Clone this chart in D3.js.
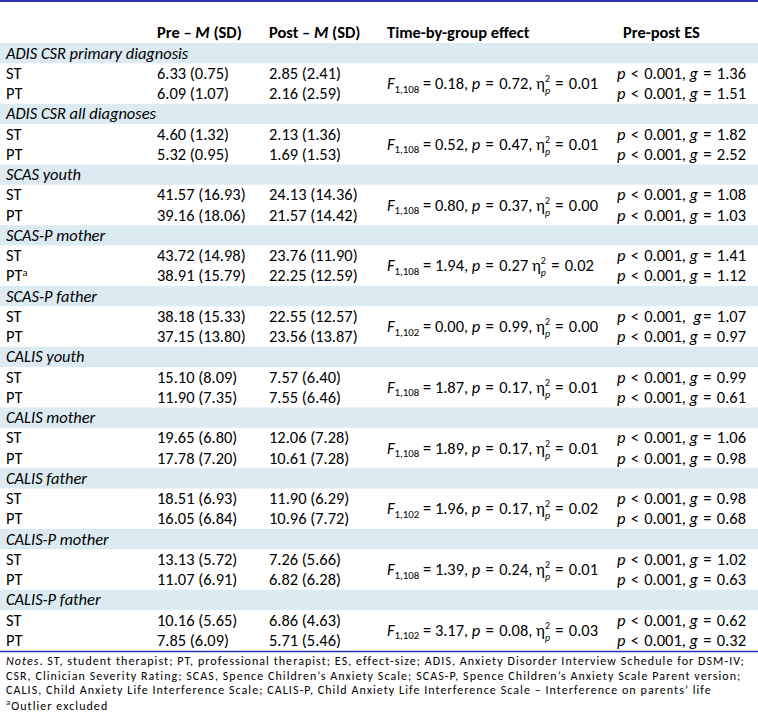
<!DOCTYPE html>
<html><head><meta charset="utf-8">
<script src="https://cdn.jsdelivr.net/npm/d3@7"></script>
<style>body{margin:0;background:#fff}svg text{white-space:pre}</style>
</head><body><svg id="c" width="758" height="722"></svg>
<script>
// ---- data ----
const measures = ["ADIS CSR primary diagnosis","ADIS CSR all diagnoses","SCAS youth","SCAS-P mother","SCAS-P father","CALIS youth","CALIS mother","CALIS father","CALIS-P mother","CALIS-P father"];
const groups = ["ST","PT"];
const preST  = ["6.33 (0.75)","4.60 (1.32)","41.57 (16.93)","43.72 (14.98)","38.18 (15.33)","15.10 (8.09)","19.65 (6.80)","18.51 (6.93)","13.13 (5.72)","10.16 (5.65)"];
const prePT  = ["6.09 (1.07)","5.32 (0.95)","39.16 (18.06)","38.91 (15.79)","37.15 (13.80)","11.90 (7.35)","17.78 (7.20)","16.05 (6.84)","11.07 (6.91)","7.85 (6.09)"];
const postST = ["2.85 (2.41)","2.13 (1.36)","24.13 (14.36)","23.76 (11.90)","22.55 (12.57)","7.57 (6.40)","12.06 (7.28)","11.90 (6.29)","7.26 (5.66)","6.86 (4.63)"];
const postPT = ["2.16 (2.59)","1.69 (1.53)","21.57 (14.42)","22.25 (12.59)","23.56 (13.87)","7.55 (6.46)","10.61 (7.28)","10.96 (7.72)","6.82 (6.28)","5.71 (5.46)"];
const ptNote = ["","","","a","","","","","",""];
const fDf  = ["1,108","1,108","1,108","1,108","1,102","1,108","1,108","1,102","1,108","1,102"];
const fVal = ["0.18","0.52","0.80","1.94","0.00","1.87","1.89","1.96","1.39","3.17"];
const pVal = ["0.72","0.47","0.37","0.27","0.99","0.17","0.17","0.17","0.24","0.08"];
const pSep = [",",",",",","",",",",",",",",",",",","];
const eta  = ["0.01","0.01","0.00","0.02","0.00","0.01","0.01","0.02","0.01","0.03"];
const esP  = "0.001";
const gST  = ["1.36","1.82","1.08","1.41","1.07","0.99","1.06","0.98","1.02","0.62"];
const gPT  = ["1.51","2.52","1.03","1.12","0.97","0.61","0.98","0.68","0.63","0.32"];
const headers = [["Pre – ",{t:"M",i:1}," (SD)"],["Post – ",{t:"M",i:1}," (SD)"],["Time-by-group effect"],["Pre-post ES"]];
const notes = [
  [{t:"Notes",i:1},". ST, student therapist; PT, professional therapist; ES, effect-size; ADIS, Anxiety Disorder Interview Schedule for DSM-IV;"],
  ["CSR, Clinician Severity Rating; SCAS, Spence Children’s Anxiety Scale; SCAS-P, Spence Children’s Anxiety Scale Parent version;"],
  ["CALIS, Child Anxiety Life Interference Scale; CALIS-P, Child Anxiety Life Interference Scale – Interference on parents’ life"],
  [{t:"a",sup:1},"Outlier excluded"]
];

// ---- layout ----
const W = 758, H = 722;
const FONT = "Carlito, Lato, 'Open Sans', sans-serif";
const svg = d3.select("#c");
const nRows = measures.length * 3;
const y = d3.scaleLinear().domain([0, nRows]).range([43, 650.5]);
const colX = d3.scaleOrdinal().domain(["label","pre","post","effect","es","esHead"]).range([6,157,269,387,617,623]);
const BAND = "#dbebf1", BLUE = "#3030b2";

// measure helper
const meas = svg.append("text").attr("font-family", FONT).attr("x", -999).attr("y", -999).attr("letter-spacing", 0);
function width(str, size, opts = {}) {
  meas.attr("font-size", size).attr("font-style", opts.i ? "italic" : "normal").attr("font-weight", opts.b ? "bold" : "normal").text(str);
  return meas.node().getComputedTextLength();
}
// auto-fit sizes to widths
const bodySize = 15 * 72 / width("6.33 (0.75)", 15);
const noteSize = 12;
const note1 = "Notes. ST, student therapist; PT, professional therapist; ES, effect-size; ADIS, Anxiety Disorder Interview Schedule for DSM-IV;";
const noteLS = Math.max(0, (739 - width(note1, noteSize)) / note1.length);
const smallSize = bodySize * 0.66;
const stackSize = bodySize * 0.6;
const GAP = 1.6;

// rich text: one <text> per line, tspans placed explicitly.
function rich(g, x, yb, segs, size, bold) {
  let cx = x;
  const t = g.append("text").attr("font-family", FONT).attr("fill", "#000").attr("font-size", size);
  segs.forEach(s => {
    if (typeof s === "string") s = {t: s};
    if (s.gap) { cx += s.gap; return; }
    if (s.stack) {
      const ss = stackSize;
      const w1 = width(s.stack[0], ss), w2 = width(s.stack[1], ss, {i:1});
      t.append("tspan").attr("x", cx).attr("y", yb - size*0.42).attr("font-size", ss).text(s.stack[0]);
      t.append("tspan").attr("x", cx).attr("y", yb + size*0.3).attr("font-size", ss).attr("font-style","italic").text(s.stack[1]);
      cx += Math.max(w1, w2);
      return;
    }
    const fs = (s.sub || s.sup) ? smallSize * (s.sup ? 0.95 : 1) : size;
    const dy = s.sub ? size*0.22 : s.sup ? -size*0.36 : 0;
    const o = {i: s.i, b: bold || s.b};
    t.append("tspan").attr("x", cx).attr("y", yb + dy).attr("font-size", fs)
      .attr("font-style", s.i ? "italic" : "normal")
      .attr("font-weight", o.b ? "bold" : "normal").text(s.t);
    cx += width(s.t, fs, o);
  });
  return t;
}

const g = svg.append("g");
// top rule
g.append("line").attr("x1",0).attr("x2",W).attr("y1",1).attr("y2",1).attr("stroke",BLUE).attr("stroke-width",2);
// header
const hb = 38;
rich(g, colX("pre"), hb, headers[0], bodySize, true);
rich(g, colX("post"), hb, headers[1], bodySize, true);
rich(g, colX("effect"), hb, headers[2], bodySize, true);
rich(g, colX("esHead"), hb, headers[3], bodySize, true);

const base = i => (y(i) + y(i+1)) / 2 + bodySize * 0.34;
const rel = sym => [{gap: GAP}, " " + sym + " ", {gap: GAP}];

measures.forEach((m, k) => {
  const r0 = k * 3;
  g.append("rect").attr("x", 0).attr("width", W).attr("y", y(r0)).attr("height", y(r0+1) - y(r0)).attr("fill", BAND);
  rich(g, colX("label"), base(r0), [{t: m, i: 1}], bodySize);
  rich(g, colX("label"), base(r0+1), [groups[0]], bodySize);
  rich(g, colX("pre"), base(r0+1), [preST[k]], bodySize);
  rich(g, colX("post"), base(r0+1), [postST[k]], bodySize);
  rich(g, colX("label"), base(r0+2), ptNote[k] ? [groups[1], {t: ptNote[k], sup: 1}] : [groups[1]], bodySize);
  rich(g, colX("pre"), base(r0+2), [prePT[k]], bodySize);
  rich(g, colX("post"), base(r0+2), [postPT[k]], bodySize);
  const yb = y(r0+2) + bodySize * 0.34;
  rich(g, colX("effect"), yb, [{t:"F",i:1},{t:fDf[k],sub:1}," = " + fVal[k] + ", ",{t:"p",i:1}, ...rel("="), pVal[k] + pSep[k] + " η",{stack:["2","p"]}, ...rel("="), eta[k]], bodySize);
  const stSegs = k === 4
    ? [{t:"p",i:1}, ...rel("<"), esP + ",  ", {t:"g",i:1}, {gap: GAP}, "= ", {gap: GAP}, gST[k]]
    : [{t:"p",i:1}, ...rel("<"), esP + ", ", {t:"g",i:1}, ...rel("="), gST[k]];
  rich(g, colX("es"), base(r0+1), stSegs, bodySize);
  rich(g, colX("es"), base(r0+2), [{t:"p",i:1}, ...rel("<"), esP + ", ", {t:"g",i:1}, ...rel("="), gPT[k]], bodySize);
});

// bottom rule
g.append("line").attr("x1",0).attr("x2",W).attr("y1",y(nRows)+1).attr("y2",y(nRows)+1).attr("stroke",BLUE).attr("stroke-width",1.5);
// notes (flowing tspans so letter-spacing applies)
const nb = [665, 679.6, 694.2, 709.5];
notes.forEach((n, i) => {
  const t = g.append("text").attr("x", 6).attr("y", nb[i]).attr("font-family", FONT)
    .attr("font-size", noteSize).attr("letter-spacing", noteLS).attr("fill", "#000");
  n.forEach(s => {
    if (typeof s === "string") s = {t: s};
    const sp = t.append("tspan").text(s.t);
    if (s.i) sp.attr("font-style", "italic");
    if (s.sup) sp.attr("font-size", noteSize * 0.72).attr("baseline-shift", "super");
  });
});
meas.remove();
</script></body></html>
